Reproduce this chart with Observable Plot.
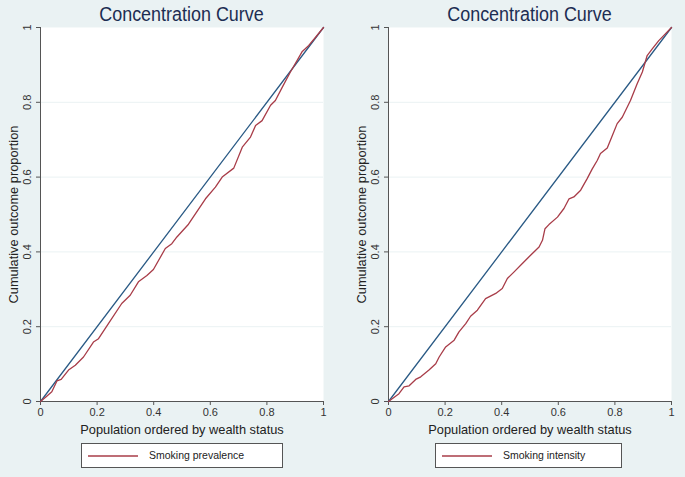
<!DOCTYPE html>
<html>
<head>
<meta charset="utf-8">
<script src="https://cdn.jsdelivr.net/npm/d3@7"></script>
<script src="https://cdn.jsdelivr.net/npm/@observablehq/plot@0.6"></script>
<style>
  html, body { margin: 0; padding: 0; background: #eaf2f3; }
  #wrap { position: relative; width: 685px; height: 477px; background: #eaf2f3; overflow: hidden;
          font-family: "Liberation Sans", Arial, Helvetica, sans-serif; }
  .panel { position: absolute; top: 0; height: 477px; }
  .title { position: absolute; top: 2px; left: 40px; width: 283px; text-align: center; font-size: 19.5px;
           line-height: 24px; color: #1c2d52; white-space: nowrap; transform: scaleX(0.92); transform-origin: center; }
  .plot { position: absolute; top: 20px; left: 0; }
  .legend { position: absolute; top: 443px; height: 23px; background: #fff; border: 1px solid #555; }
  .legend svg { position: absolute; left: 0; top: 0; }
  .legend span { position: absolute; top: 5px; font-size: 10.5px; color: #222; white-space: nowrap; }
</style>
</head>
<body>
<div id="wrap"></div>
<script>
// ---- data ----
const titles = ["Concentration Curve", "Concentration Curve"];
const xLabel = "Population ordered by wealth status";
const yLabel = "Cumulative outcome proportion";
const legendLabels = ["Smoking prevalence", "Smoking intensity"];
const ticks = [0, 0.2, 0.4, 0.6, 0.8, 1];
const gridTicks = [0.2, 0.4, 0.6, 0.8];
const equalityX = [0, 1];
const equalityY = [0, 1];

const prevalenceX = [0, 0.02, 0.04, 0.058, 0.073, 0.099, 0.123, 0.152, 0.187, 0.205, 0.24, 0.287, 0.317, 0.346,
  0.376, 0.399, 0.441, 0.464, 0.482, 0.523, 0.536, 0.583, 0.618, 0.642, 0.683, 0.713, 0.742, 0.76, 0.783,
  0.813, 0.83, 0.854, 0.883, 0.907, 0.925, 0.948, 0.972, 1];
const prevalenceY = [0, 0.013, 0.026, 0.055, 0.059, 0.084, 0.097, 0.119, 0.159, 0.168, 0.208, 0.262, 0.284, 0.32,
  0.337, 0.353, 0.409, 0.422, 0.44, 0.474, 0.489, 0.542, 0.573, 0.6, 0.624, 0.68, 0.707, 0.738, 0.751,
  0.792, 0.805, 0.84, 0.881, 0.912, 0.936, 0.952, 0.974, 1];

const intensityX = [0, 0.037, 0.055, 0.073, 0.096, 0.114, 0.143, 0.167, 0.179, 0.202, 0.232, 0.249, 0.273, 0.29,
  0.314, 0.343, 0.379, 0.402, 0.42, 0.443, 0.473, 0.502, 0.532, 0.544, 0.553, 0.567, 0.597, 0.62, 0.638,
  0.655, 0.679, 0.702, 0.72, 0.738, 0.749, 0.773, 0.791, 0.808, 0.826, 0.855, 0.879, 0.897, 0.914, 0.932,
  0.955, 0.973, 1];
const intensityY = [0, 0.021, 0.039, 0.042, 0.059, 0.066, 0.084, 0.101, 0.119, 0.146, 0.164, 0.186, 0.208, 0.228,
  0.244, 0.275, 0.289, 0.302, 0.329, 0.346, 0.369, 0.391, 0.413, 0.431, 0.462, 0.473, 0.493, 0.516, 0.542,
  0.547, 0.565, 0.596, 0.622, 0.645, 0.663, 0.678, 0.711, 0.743, 0.76, 0.805, 0.85, 0.881, 0.925, 0.943,
  0.965, 0.979, 1];

const series = [
  {xs: prevalenceX, ys: prevalenceY},
  {xs: intensityX, ys: intensityY}
];

// ---- layout ----
const panelLeft = [0, 348];
const panelWidth = [347, 337];
const marginRight = [24, 14];
const legendBox = [{left: 81, width: 200}, {left: 87, width: 185}];
const blue = "#2a5a85";
const red = "#a83c48";
const fmt = d3.format("~g");

const wrap = document.getElementById("wrap");

for (let p = 0; p < 2; p++) {
  const panel = document.createElement("div");
  panel.className = "panel";
  panel.style.left = panelLeft[p] + "px";
  panel.style.width = panelWidth[p] + "px";

  const title = document.createElement("div");
  title.className = "title";
  title.textContent = titles[p];
  panel.appendChild(title);

  const {xs, ys} = series[p];
  const idx = d3.range(xs.length);
  const eqIdx = d3.range(equalityX.length);

  const chart = Plot.plot({
    width: panelWidth[p],
    height: 421,
    marginTop: 7,
    marginLeft: 40,
    marginRight: marginRight[p],
    marginBottom: 40,
    style: {background: "transparent", fontFamily: "'Liberation Sans', Arial, Helvetica, sans-serif", overflow: "visible"},
    x: {domain: [0, 1], ticks: ticks},
    y: {domain: [0, 1], ticks: ticks},
    marks: [
      Plot.frame({fill: "white", stroke: "none"}),
      Plot.gridY(gridTicks, {stroke: "#eaf2f3", strokeOpacity: 1, strokeWidth: 1}),
      Plot.axisX(ticks, {tickSize: 4, tickPadding: 3, fontSize: 11, color: "#333", stroke: "#555", label: null, tickFormat: fmt}),
      Plot.axisY(ticks, {tickSize: 4, tickFormat: () => "", stroke: "#555", label: null}),
      Plot.text(ticks, {y: d => d, text: d => fmt(d), frameAnchor: "left", textAnchor: "middle", lineAnchor: "middle", dx: -13, rotate: -90, fontSize: 11, fill: "#333"}),
      Plot.ruleX([0], {stroke: "#555", strokeWidth: 1}),
      Plot.ruleY([0], {stroke: "#555", strokeWidth: 1}),
      Plot.text([yLabel], {frameAnchor: "left", textAnchor: "middle", lineAnchor: "middle", dx: -27, rotate: -90, fontSize: 12.8, fill: "#222"}),
      Plot.text([xLabel], {frameAnchor: "bottom", textAnchor: "middle", lineAnchor: "middle", dy: 28, fontSize: 12.8, fill: "#222"}),
      Plot.line(eqIdx, {x: i => equalityX[i], y: i => equalityY[i], stroke: blue, strokeWidth: 1.3}),
      Plot.line(idx, {x: i => xs[i], y: i => ys[i], stroke: red, strokeWidth: 1.3})
    ]
  });
  const holder = document.createElement("div");
  holder.className = "plot";
  holder.appendChild(chart);
  panel.appendChild(holder);

  const lg = document.createElement("div");
  lg.className = "legend";
  lg.style.left = legendBox[p].left + "px";
  lg.style.width = legendBox[p].width + "px";
  lg.innerHTML = `<svg width="${legendBox[p].width}" height="23"><line x1="6" x2="56" y1="12" y2="12" stroke="${red}" stroke-width="1.3"/></svg><span style="left:67px">${legendLabels[p]}</span>`;
  panel.appendChild(lg);

  wrap.appendChild(panel);
}
</script>
</body>
</html>
